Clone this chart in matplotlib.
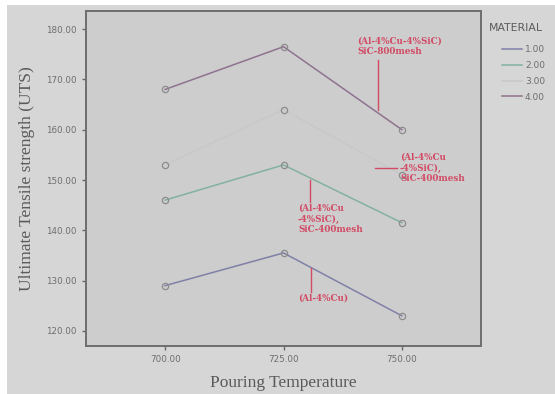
import matplotlib
matplotlib.use("Agg")
import matplotlib.pyplot as plt
from matplotlib.patches import Rectangle

temps = [700, 725, 750]
materials = ["1.00", "2.00", "3.00", "4.00"]
uts_m1 = [129.0, 135.5, 123.0]
uts_m2 = [146.0, 153.0, 141.5]
uts_m3 = [153.0, 164.0, 151.0]
uts_m4 = [168.0, 176.5, 160.0]
series = [uts_m1, uts_m2, uts_m3, uts_m4]
colors = ["#8080a8", "#82b29e", "#c8c8c8", "#8e7290"]
yticks = [120, 130, 140, 150, 160, 170, 180]

fig = plt.figure(figsize=(5.55, 3.94), dpi=100, facecolor="white")
fig.patches.append(Rectangle((7/555, 0), 1, (394-5)/394, transform=fig.transFigure,
                             facecolor="#d6d6d6", edgecolor="none", zorder=-10))
ax = fig.add_axes([86/555, 48/394, (481-86)/555, (346-11)/394])
ax.set_facecolor("#cdcdcd")

for vals, c, m in zip(series, colors, materials):
    ax.plot(temps, vals, color=c, lw=1.1, marker="o", ms=4.5, mfc="none", mec="#8c8c8c",
            mew=0.9, label=m)

ax.set_xlim(683.3, 766.7)
ax.set_ylim(117.0, 183.6)
ax.set_xticks(temps)
ax.set_xticklabels([f"{t:.2f}" for t in temps])
ax.set_yticks(yticks)
ax.set_yticklabels([f"{v:.2f}" for v in yticks])
ax.tick_params(labelsize=6.3, colors="#666666", length=3, width=1, labelcolor="#6e6e6e")
for s in ax.spines.values():
    s.set_color("#6e6e6e")
    s.set_linewidth(1.4)

ax.set_xlabel("Pouring Temperature", family="Liberation Serif", fontsize=12.5,
              color="#5a5a5a", labelpad=8)
ax.set_ylabel("Ultimate Tensile strength (UTS)", family="Liberation Serif", fontsize=12.5,
              color="#5a5a5a", labelpad=8)

red = "#d24a64"
kw = dict(color=red, fontsize=6.3, fontweight="bold", family="DejaVu Serif",
          transform=fig.transFigure, va="top", ha="left", linespacing=1.2)
def fx(x): return x/555
def fy(y): return 1 - y/394
fig.text(fx(357), fy(37), "(Al-4%Cu-4%SiC)\nSiC-800mesh", **kw)
fig.text(fx(400), fy(153), "(Al-4%Cu\n-4%SiC),\nSiC-400mesh", **kw)
fig.text(fx(298), fy(204), "(Al-4%Cu\n-4%SiC),\nSiC-400mesh", **kw)
fig.text(fx(298), fy(294), "(Al-4%Cu)", **kw)

ln = dict(color=red, lw=1.0, transform=fig.transFigure)
fig.add_artist(plt.Line2D([fx(378), fx(378)], [fy(60), fy(110)], **ln))
fig.add_artist(plt.Line2D([fx(375), fx(397)], [fy(168), fy(168)], **ln))
fig.add_artist(plt.Line2D([fx(310), fx(310)], [fy(180), fy(202)], **ln))
fig.add_artist(plt.Line2D([fx(311), fx(311)], [fy(268), fy(292)], **ln))

fig.text(fx(489), fy(23), "MATERIAL", fontsize=7.8, color="#5a5a5a", va="top", ha="left",
         transform=fig.transFigure)
leg = ax.legend(loc="upper left", bbox_to_anchor=(496/555, 1-39/394),
                bbox_transform=fig.transFigure, frameon=False, fontsize=6.5,
                handlelength=2.2, handletextpad=0.3,
                labelspacing=0.75, borderpad=0.2)
for t in leg.get_texts():
    t.set_color("#6e6e6e")
for h in leg.legend_handles:
    h.set_marker("")

fig.savefig("out.png", dpi=100, facecolor=fig.get_facecolor())
